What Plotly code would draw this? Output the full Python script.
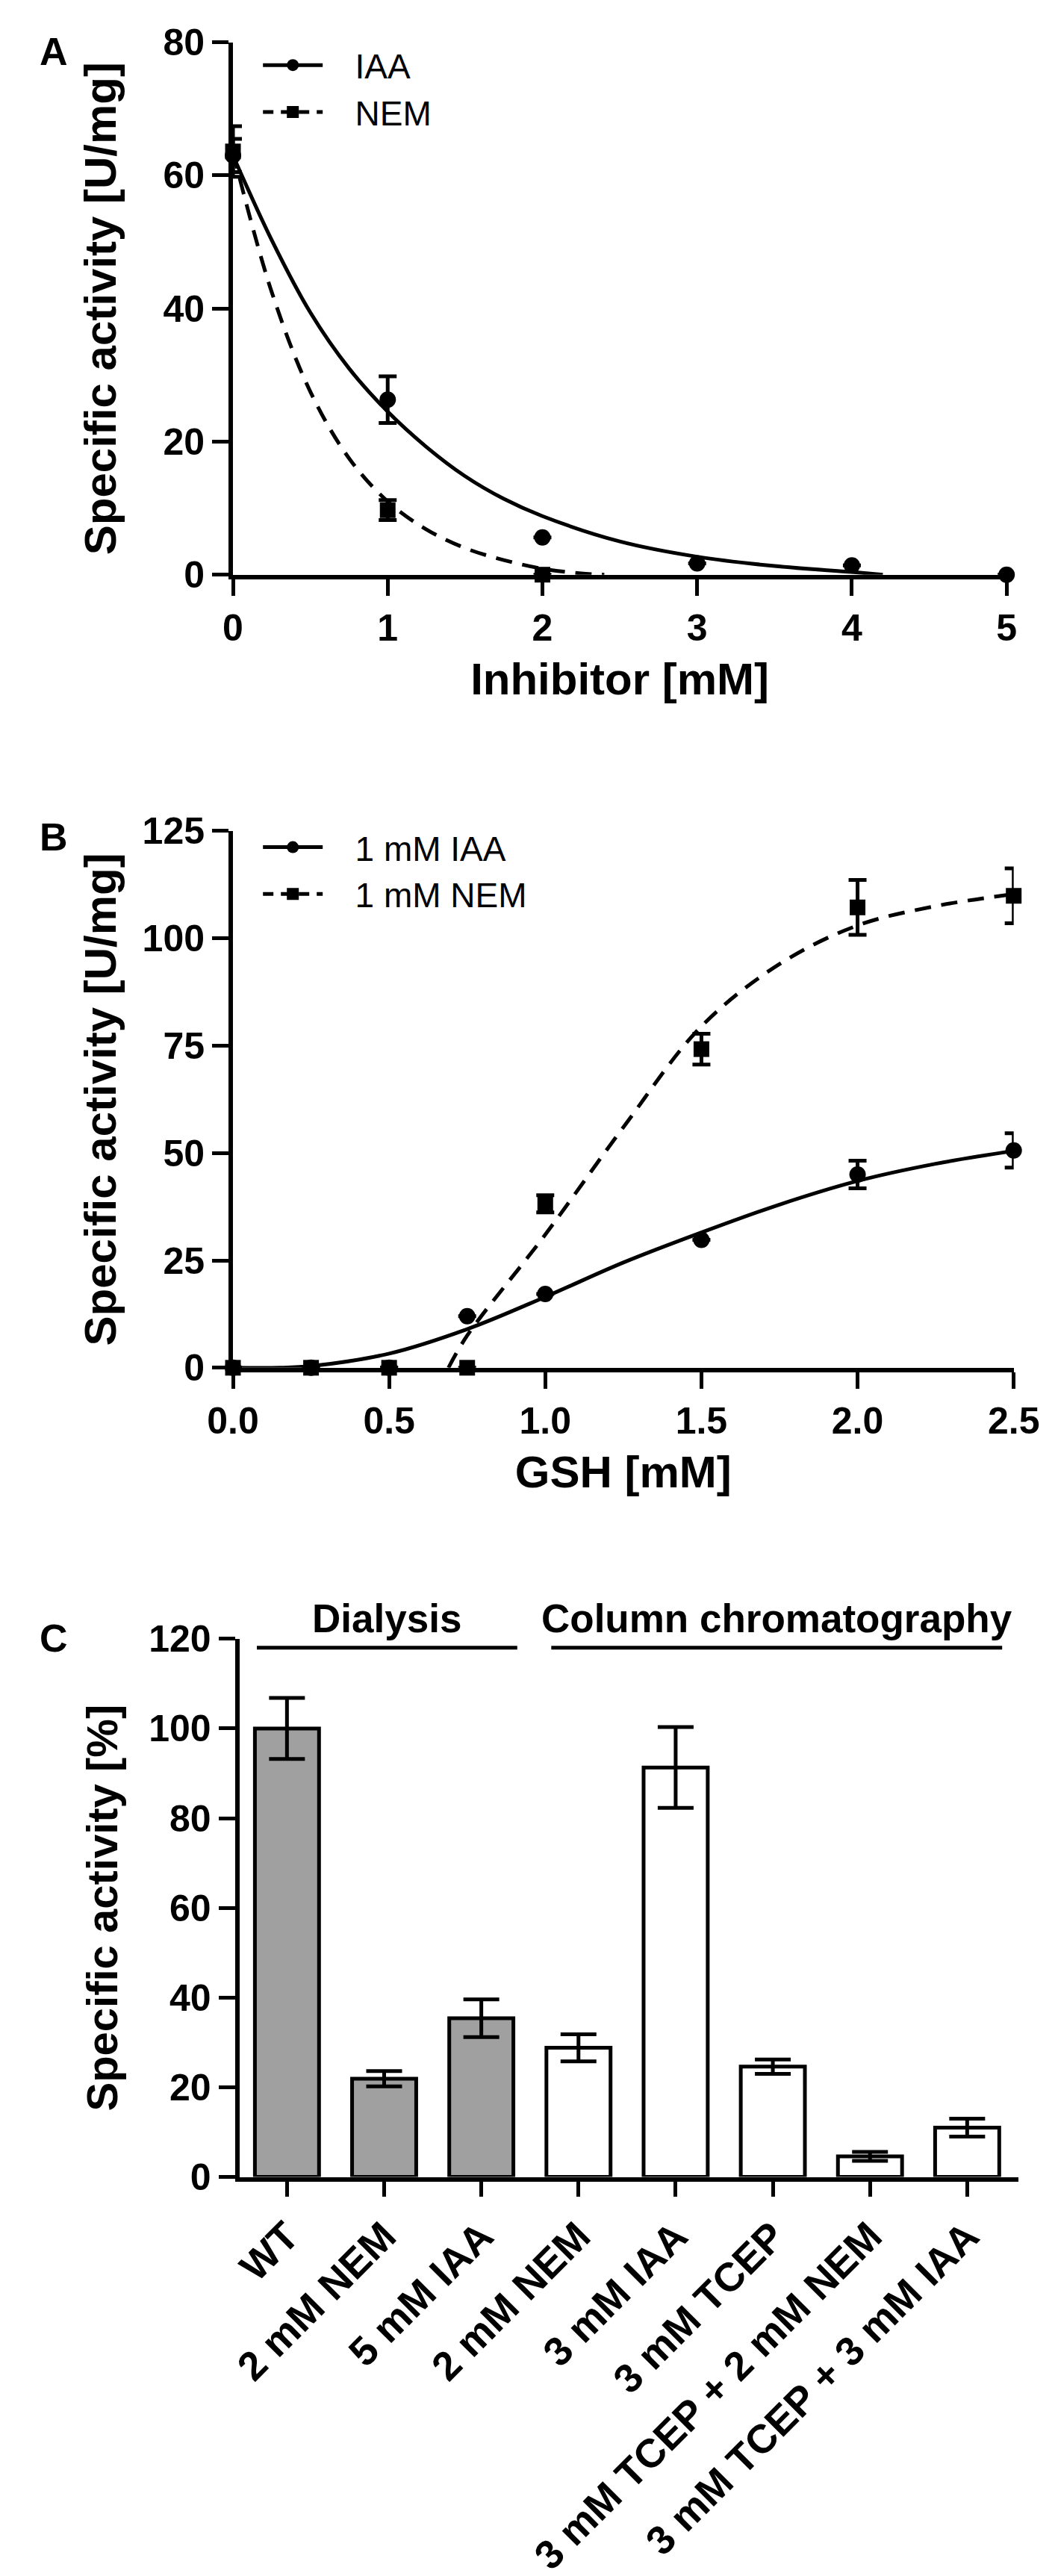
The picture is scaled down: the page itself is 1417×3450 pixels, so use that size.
import plotly.graph_objects as go

# panel A - inhibitor titration
inh_x = [0, 1, 2, 3, 4, 5]
iaa_a = [63.0, 26.3, 5.6, 1.7, 1.4, 0.0]
iaa_a_err = [2.5, 3.5, None, None, None, None]
nem_a_x = [0, 1, 2]
nem_a = [63.6, 9.7, 0.0]
nem_a_err = [3.8, 1.5, None]
# fitted decay curves
fit_iaa_a_x = [0, 0.25, 0.5, 0.75, 1, 1.25, 1.5, 1.75, 2, 2.5, 3, 3.5, 4, 4.2]
fit_iaa_a_y = [63, 50.3, 39.4, 31, 24.5, 19.2, 14.8, 11.4, 8.8, 5.0, 2.7, 1.3, 0.4, 0]
fit_nem_a_x = [0, 0.25, 0.5, 0.75, 1, 1.25, 1.5, 1.75, 2, 2.25, 2.4]
fit_nem_a_y = [63.5, 42.5, 27.5, 17.5, 11, 6.8, 4.0, 2.2, 0.9, 0.2, 0]

# panel B - GSH rescue
gsh_x = [0, 0.25, 0.5, 0.75, 1.0, 1.5, 2.0, 2.5]
iaa_b = [0, 0, 0, 12.0, 17.2, 29.8, 45.0, 50.6]
iaa_b_err = [None, None, None, None, None, None, 3.2, 4.0]
nem_b = [0, 0, 0, 0, 38.2, 74.2, 107.2, 109.9]
nem_b_err = [None, None, None, None, 2.0, 3.6, 6.4, 6.4]
fit_iaa_b_x = [0, 0.15, 0.25, 0.5, 0.75, 1.0, 1.25, 1.5, 1.75, 2.0, 2.25, 2.5]
fit_iaa_b_y = [0, 0, 0.4, 3.3, 9.0, 16.5, 24.5, 31.5, 38.0, 43.5, 47.5, 50.5]
fit_nem_b_x = [0.69, 0.75, 1.0, 1.25, 1.5, 1.75, 2.0, 2.25, 2.5]
fit_nem_b_y = [0, 7.5, 31, 56, 79.5, 94, 103, 107.5, 110.3]

# panel C - relative activity after removal
treatments = ["WT", "2 mM NEM", "5 mM IAA", "2 mM NEM", "3 mM IAA", "3 mM TCEP",
              "3 mM TCEP + 2 mM NEM", "3 mM TCEP + 3 mM IAA"]
rel_activity = [100, 21.9, 35.4, 28.8, 91.3, 24.6, 4.6, 11.0]
rel_err = [6.8, 1.7, 4.2, 3.0, 9.0, 1.6, 1.0, 2.0]
method = ["Dialysis"] * 3 + ["Column chromatography"] * 5

FONT = "Liberation Sans, Arial, sans-serif"
bold = lambda s: dict(family=FONT, size=s, color="black", weight="bold")
GAP = "\u00a0\u00a0\u00a0"  # pushes legend text away from the symbol

fig = go.Figure()

err = lambda a: dict(type="data", array=a, thickness=5, width=12, color="black")

# --- A ---
fig.add_trace(go.Scatter(x=fit_iaa_a_x, y=fit_iaa_a_y, mode="lines", line=dict(color="black", width=5, shape="spline"),
                         showlegend=False, xaxis="x", yaxis="y", cliponaxis=False))
fig.add_trace(go.Scatter(x=fit_nem_a_x, y=fit_nem_a_y, mode="lines",
                         line=dict(color="black", width=5, dash="22px,14px", shape="spline"),
                         showlegend=False, xaxis="x", yaxis="y", cliponaxis=False))
fig.add_trace(go.Scatter(x=inh_x, y=iaa_a, mode="markers", error_y=err(iaa_a_err),
                         marker=dict(symbol="circle", size=22, color="black"),
                         showlegend=False, xaxis="x", yaxis="y", cliponaxis=False))
fig.add_trace(go.Scatter(x=nem_a_x, y=nem_a, mode="markers", error_y=err(nem_a_err),
                         marker=dict(symbol="square", size=21, color="black"),
                         showlegend=False, xaxis="x", yaxis="y", cliponaxis=False))
fig.add_trace(go.Scatter(x=[None], y=[None], mode="lines+markers", name=GAP + "IAA",
                         line=dict(color="black", width=5), marker=dict(symbol="circle", size=16, color="black"),
                         xaxis="x", yaxis="y", legend="legend"))
fig.add_trace(go.Scatter(x=[None], y=[None], mode="lines+markers", name=GAP + "NEM",
                         line=dict(color="black", width=5, dash="14px,10px"),
                         marker=dict(symbol="square", size=16, color="black"),
                         xaxis="x", yaxis="y", legend="legend"))

# --- B ---
fig.add_trace(go.Scatter(x=fit_iaa_b_x, y=fit_iaa_b_y, mode="lines", line=dict(color="black", width=5, shape="spline"),
                         showlegend=False, xaxis="x2", yaxis="y2", cliponaxis=False))
fig.add_trace(go.Scatter(x=fit_nem_b_x, y=fit_nem_b_y, mode="lines",
                         line=dict(color="black", width=5, dash="22px,14px", shape="spline"),
                         showlegend=False, xaxis="x2", yaxis="y2", cliponaxis=False))
fig.add_trace(go.Scatter(x=gsh_x, y=iaa_b, mode="markers", error_y=err(iaa_b_err),
                         marker=dict(symbol="circle", size=22, color="black"),
                         showlegend=False, xaxis="x2", yaxis="y2", cliponaxis=False))
fig.add_trace(go.Scatter(x=gsh_x, y=nem_b, mode="markers", error_y=err(nem_b_err),
                         marker=dict(symbol="square", size=21, color="black"),
                         showlegend=False, xaxis="x2", yaxis="y2", cliponaxis=False))
fig.add_trace(go.Scatter(x=[None], y=[None], mode="lines+markers", name=GAP + "1 mM IAA",
                         line=dict(color="black", width=5), marker=dict(symbol="circle", size=16, color="black"),
                         xaxis="x2", yaxis="y2", legend="legend2"))
fig.add_trace(go.Scatter(x=[None], y=[None], mode="lines+markers", name=GAP + "1 mM NEM",
                         line=dict(color="black", width=5, dash="14px,10px"),
                         marker=dict(symbol="square", size=16, color="black"),
                         xaxis="x2", yaxis="y2", legend="legend2"))

# --- C ---
bar_pos = list(range(len(treatments)))
fig.add_trace(go.Bar(x=bar_pos, y=rel_activity, width=0.66,
                     marker=dict(color=["#a0a0a0" if m == "Dialysis" else "white" for m in method],
                                 line=dict(color="black", width=5)),
                     error_y=dict(type="data", array=rel_err, thickness=5, width=24, color="black"),
                     showlegend=False, xaxis="x3", yaxis="y3", cliponaxis=False))

axis_common = dict(showline=True, linecolor="black", linewidth=6, ticks="outside", ticklen=22,
                   tickwidth=5, tickcolor="black", showgrid=False, zeroline=False,
                   tickfont=bold(50))

W, H = 1417, 3450
px = lambda v: v / W
py = lambda v: 1 - v / H

fig.update_layout(
    width=W, height=H, margin=dict(l=0, r=0, t=0, b=0),
    paper_bgcolor="white", plot_bgcolor="white",
    font=dict(family=FONT, color="black"),
    xaxis=dict(axis_common, domain=[px(283), px(1373)], anchor="y", range=[0, 5], dtick=1,
               title=dict(text="Inhibitor [mM]", font=bold(60), standoff=22)),
    yaxis=dict(axis_common, domain=[py(746), py(21)], anchor="x", range=[0, 80], dtick=20,
               title=dict(text="Specific activity [U/mg]", font=bold(60), standoff=45)),
    xaxis2=dict(axis_common, domain=[px(283), px(1383)], anchor="y2", range=[0, 2.5], dtick=0.5,
                tickformat=".1f", title=dict(text="GSH [mM]", font=bold(60), standoff=22)),
    yaxis2=dict(axis_common, domain=[py(1826), py(1095)], anchor="x2", range=[0, 125], dtick=25,
                title=dict(text="Specific activity [U/mg]", font=bold(60), standoff=18)),
    xaxis3=dict(axis_common, domain=[px(292), px(1390)], anchor="y3", range=[-0.49, 7.53],
                tickvals=bar_pos, ticktext=treatments, tickangle=-45, ticklen=20,
                tickfont=bold(54)),
    yaxis3=dict(axis_common, domain=[py(2928), py(2195)], anchor="x3", range=[0, 120], dtick=20,
                title=dict(text="Specific activity [%]", font=bold(58), standoff=25)),
    legend=dict(x=px(320), y=py(15), xanchor="left", yanchor="top", bgcolor="rgba(0,0,0,0)",
                font=dict(family=FONT, size=46, color="black"), itemwidth=80, tracegroupgap=0),
    legend2=dict(x=px(320), y=py(1080), xanchor="left", yanchor="top", bgcolor="rgba(0,0,0,0)",
                 font=dict(family=FONT, size=46, color="black"), itemwidth=80, tracegroupgap=0),
)

# group brackets above panel C
groups = [("Dialysis", -0.31, 2.37), ("Column chromatography", 2.72, 7.36)]
for label, x0, x1 in groups:
    fig.add_shape(type="line", xref="x3", yref="y3", x0=x0, x1=x1, y0=118, y1=118,
                  line=dict(color="black", width=5))
    fig.add_annotation(text=label, xref="x3", yref="y3", x=(x0 + x1) / 2, y=119.3,
                       xanchor="center", yanchor="bottom", showarrow=False, font=bold(53))

# panel letters
for letter, top in [("A", 2), ("B", 1072), ("C", 2163)]:
    fig.add_annotation(text=letter, xref="paper", yref="paper", x=px(8), y=py(top),
                       xanchor="left", yanchor="top", showarrow=False, font=bold(52))

fig.write_html("out.html")
